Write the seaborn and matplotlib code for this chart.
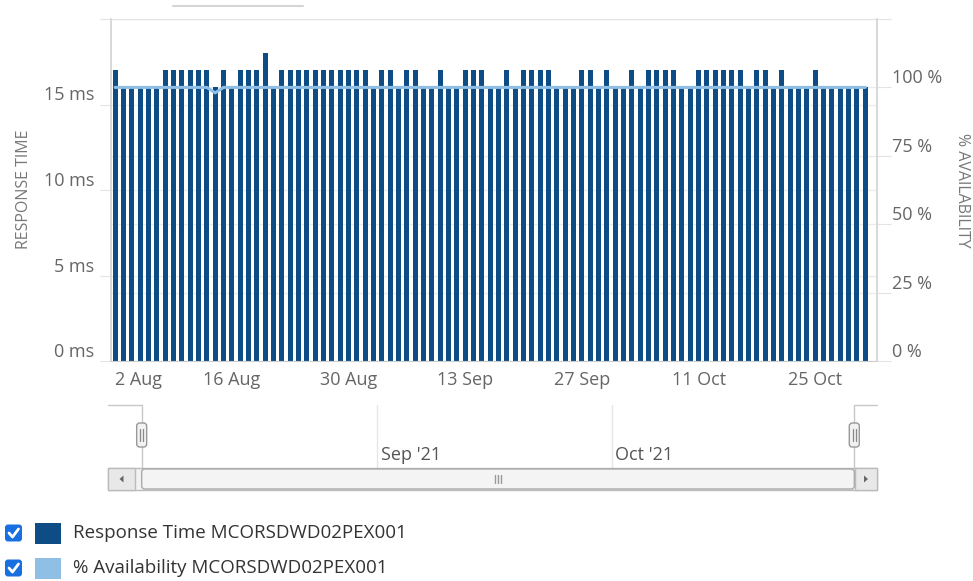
import matplotlib
matplotlib.use("Agg")
import matplotlib.pyplot as plt
from matplotlib.patches import FancyBboxPatch, Rectangle, Polygon
from matplotlib.ticker import FixedLocator
import seaborn as sns
import pandas as pd

# daily samples, 2 Aug - 31 Oct 2021
dates = pd.date_range("2021-08-02", "2021-10-31", freq="D")
response_ms = [17, 16, 16, 16, 16, 16, 17, 17, 17, 17, 17, 17, 16, 17, 16, 17, 17, 17, 18, 16,
               17, 17, 17, 17, 17, 17, 17, 17, 17, 17, 17, 16, 17, 17, 16, 17, 17, 16, 16, 17,
               16, 16, 17, 17, 17, 16, 16, 17, 16, 17, 17, 17, 17, 16, 16, 16, 17, 17, 16, 17,
               16, 16, 17, 16, 17, 17, 17, 17, 16, 16, 17, 17, 17, 17, 17, 17, 16, 17, 17, 16,
               17, 16, 16, 16, 17, 16, 16, 16, 16, 16, 16]
availability_pct = [100, 100, 100, 100, 100, 100, 100, 100, 100, 100, 100, 100, 98, 100, 100, 100, 100, 100, 100, 100,
                    100, 100, 100, 100, 100, 100, 100, 100, 100, 100, 100, 100, 100, 100, 100, 100, 100, 100, 100, 100,
                    100, 100, 100, 100, 100, 100, 100, 100, 100, 100, 100, 100, 100, 100, 100, 100, 100, 100, 100, 100,
                    100, 100, 100, 100, 100, 100, 100, 100, 100, 100, 100, 100, 100, 100, 100, 100, 100, 100, 100, 100,
                    100, 100, 100, 100, 100, 100, 100, 100, 100, 100, 100]

x_tick_dates = ["2021-08-02", "2021-08-16", "2021-08-30", "2021-09-13",
                "2021-09-27", "2021-10-11", "2021-10-25"]
x_tick_labels = ["2 Aug", "16 Aug", "30 Aug", "13 Sep", "27 Sep", "11 Oct", "25 Oct"]
ms_ticks = [0, 5, 10, 15, 20]
ms_labels = ["0 ms", "5 ms", "10 ms", "15 ms", ""]
pct_ticks = [0, 25, 50, 75, 100, 125]
pct_labels = ["0 %", "25 %", "50 %", "75 %", "100 %", ""]
nav_months = ["2021-09-01", "2021-10-01"]
nav_labels = ["Sep '21", "Oct '21"]
series_names = ["Response Time MCORSDWD02PEX001", "% Availability MCORSDWD02PEX001"]

DARK = "#0d4c84"
LIGHT = "#8fbfe4"
GRID = "#ebebeb"
TXT = "#666666"

sns.set_style("white")
plt.rcParams["font.family"] = ["Open Sans", "DejaVu Sans"]

W, H = 973, 581
fig = plt.figure(figsize=(W / 100, H / 100), dpi=100)


def box(l, t, r, b):
    return [l / W, 1 - b / H, (r - l) / W, (b - t) / H]


df = pd.DataFrame({"day": range(len(dates)), "ms": response_ms, "avail": availability_pct})

# main chart
ax = fig.add_axes(box(111, 19, 877, 361))
sns.barplot(data=df, x="day", y="ms", native_scale=True, color=DARK, saturation=1,
            width=0.6, linewidth=0, errorbar=None, ax=ax, zorder=2)
ax2 = ax.twinx()
sns.lineplot(data=df, x="day", y="avail", color=LIGHT, lw=2.2, ax=ax2)

ax.set_ylim(0, ms_ticks[-1])
ax2.set_ylim(0, pct_ticks[-1])
ax.set_xlim(-0.5, len(dates) + 0.4)

ax.set_xticks([dates.get_loc(pd.Timestamp(d)) for d in x_tick_dates], x_tick_labels)
ax.set_yticks(ms_ticks, ms_labels)
ax.yaxis.set_minor_locator(FixedLocator([p * ms_ticks[-1] / pct_ticks[-1] for p in pct_ticks]))
ax.grid(axis="y", which="both", color=GRID, lw=1)
ax.grid(axis="x", visible=False)
ax.set_axisbelow(True)
ax.tick_params(axis="y", which="major", length=8, color="#e3e3e3", labelsize=13, labelcolor=TXT, pad=4)
ax.tick_params(axis="y", which="minor", length=0)
ax.tick_params(axis="x", length=0, labelsize=13, labelcolor=TXT, pad=7)
ax.set_xlabel("")
ax.set_ylabel("")
ax2.set_yticks(pct_ticks, pct_labels)
ax2.tick_params(axis="y", length=10, color="#e3e3e3", labelsize=13, labelcolor=TXT, pad=1)
ax2.set_ylabel("")
for t in ax.get_yticklabels() + ax2.get_yticklabels():
    t.set_va("bottom")
ax.get_xticklabels()[0].set_ha("left")

ax.spines["top"].set_color("#e3e3e3")
ax.spines["left"].set_color("#d6d6d6")
ax.spines["left"].set_linewidth(1.3)
ax.spines["bottom"].set_color("#cccccc")
ax.spines["right"].set_visible(False)
for s in ["top", "left", "bottom"]:
    ax2.spines[s].set_visible(False)
ax2.spines["right"].set_color("#d6d6d6")
ax2.spines["right"].set_linewidth(1.3)

fig.text(24 / W, 1 - 189 / H, "RESPONSE TIME", rotation=90, ha="center", va="center",
         fontsize=11.5, color="#777777")
fig.text(962 / W, 1 - 190 / H, "% AVAILABILITY", rotation=270, ha="center", va="center",
         fontsize=11.5, color="#777777")

# navigator
end = len(dates)
nav = fig.add_axes(box(108, 405, 877, 468))
nav.set_xlim(-4.3, 93.9)
nav.set_ylim(0, 1)
nav.axis("off")
for d, lab in zip(nav_months, nav_labels):
    pos = dates.get_loc(pd.Timestamp(d))
    nav.axvline(pos, color="#e6e6e6", lw=1)
    nav.text(pos + 0.5, 0.06, lab, ha="left", va="bottom", fontsize=13, color="#555555")
x0, x1 = nav.get_xlim()
nav.plot([x0, 0, 0], [1, 1, 0], color="#c8c8c8", lw=1, clip_on=False)
nav.plot([end, end, x1], [0, 1, 1], color="#c8c8c8", lw=1, clip_on=False)

ui = fig.add_axes([0, 0, 1, 1])
ui.set_xlim(0, W)
ui.set_ylim(H, 0)
ui.axis("off")
ui.patch.set_alpha(0)


def nav_px(day):
    return nav.transData.transform((day, 0))[0]


# scrollbar
ui.add_patch(Rectangle((108, 468), 769, 22, fc="#f2f2f2", ec="#bbbbbb", lw=1))
ui.add_patch(Rectangle((108, 468), 27, 22, fc="#e8e8e8", ec="#bbbbbb", lw=1))
ui.add_patch(Rectangle((855, 468), 22, 22, fc="#e8e8e8", ec="#bbbbbb", lw=1))
ui.add_patch(Polygon([(123.5, 475.5), (123.5, 482.5), (119.5, 479)], fc="#666666", ec="none"))
ui.add_patch(Polygon([(864, 475.5), (864, 482.5), (868, 479)], fc="#666666", ec="none"))
tx0, tx1 = nav_px(0), nav_px(end)
ui.add_patch(FancyBboxPatch((tx0, 469), tx1 - tx0, 20, boxstyle="round,pad=0,rounding_size=3",
                            fc="#f4f4f4", ec="#aaaaaa", lw=1))
mid = (tx0 + tx1) / 2
for dx in (-3, 0, 3):
    ui.plot([mid + dx, mid + dx], [475, 483], color="#999999", lw=1)

# navigator handles
for d in (0, end):
    hx = nav_px(d)
    ui.add_patch(FancyBboxPatch((hx - 5, 423), 10, 24, boxstyle="round,pad=0,rounding_size=3",
                                fc="#f2f2f2", ec="#999999", lw=1, zorder=3))
    for dx in (-1.5, 1.5):
        ui.plot([hx + dx, hx + dx], [429, 441], color="#888888", lw=0.9, zorder=4)

# top remnant
ui.plot([173, 303], [6, 6], color="#d5d5d5", lw=1.5)

# legend
for i, (name, col) in enumerate(zip(series_names, [DARK, LIGHT])):
    yc = 533 + 35 * i
    ui.add_patch(FancyBboxPatch((5, yc - 8.5), 17, 17, boxstyle="round,pad=0,rounding_size=3",
                                fc="#1a6fe0", ec="none"))
    ui.plot([9, 12.5, 18.5], [yc, yc + 4, yc - 4], color="white", lw=2, solid_capstyle="round")
    ui.add_patch(Rectangle((35, yc - 10), 26, 21, fc=col, ec="none"))
    ui.text(73, yc, name, va="center", ha="left", fontsize=13.5, color="#333333")

fig.savefig("out.png", dpi=100)
